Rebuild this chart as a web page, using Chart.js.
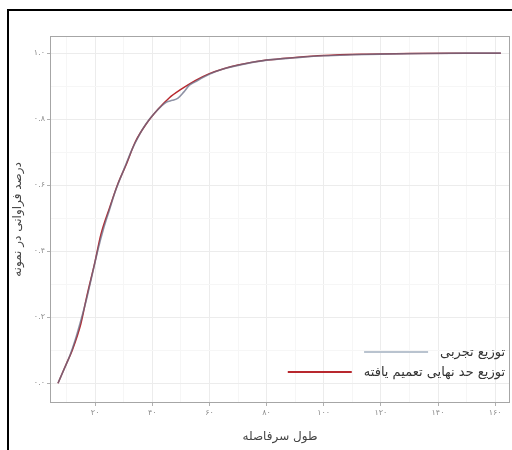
<!DOCTYPE html>
<html><head><meta charset="utf-8">
<script src="https://cdn.jsdelivr.net/npm/chart.js@4.4.1/dist/chart.umd.min.js"></script>
<style>
html,body{margin:0;padding:0;background:#fff;width:512px;height:450px;overflow:hidden}
#wrap{position:relative;width:512px;height:450px}
#frame{position:absolute;left:7px;top:9px;width:600px;height:600px;border:2px solid #000;pointer-events:none}
canvas{position:absolute;left:0;top:0}
</style></head><body>
<div id="wrap"><canvas id="c" width="512" height="450"></canvas><div id="frame"></div></div>
<script>
// ---- data ----
const fittedX = [7, 10, 12, 15, 17, 20, 22, 25, 28, 31, 34, 38, 42, 46, 50, 55, 60, 65, 70, 80, 90, 100, 115, 130, 145, 162];
const fittedY = [0.0, 0.06, 0.10, 0.18, 0.26, 0.37, 0.45, 0.53, 0.605, 0.665, 0.73, 0.787, 0.83, 0.865, 0.89, 0.917, 0.938, 0.953, 0.964, 0.979, 0.987, 0.993, 0.997, 0.999, 1.0, 1.0];
const empiricalX = [7, 9, 11, 13, 15, 17, 19, 21, 23, 25, 27, 29, 31, 33, 35, 37, 39, 41, 43, 45, 47, 49, 51, 53, 55, 58, 62, 66, 70, 75, 80, 90, 100, 110, 120, 135, 150, 162];
const empiricalY = [0.0, 0.04, 0.08, 0.13, 0.19, 0.255, 0.33, 0.405, 0.47, 0.525, 0.58, 0.625, 0.668, 0.71, 0.745, 0.775, 0.80, 0.82, 0.838, 0.852, 0.857, 0.864, 0.882, 0.903, 0.913, 0.928, 0.944, 0.955, 0.963, 0.972, 0.979, 0.986, 0.992, 0.995, 0.997, 0.999, 1.0, 1.0];
const xTicks = [20, 40, 60, 80, 100, 120, 140, 160];
const xTickLabels = ['۲۰', '۴۰', '۶۰', '۸۰', '۱۰۰', '۱۲۰', '۱۴۰', '۱۶۰'];
const xMinorTicks = [10, 30, 50, 70, 90, 110, 130, 150];
const yTicks = [0, 0.2, 0.4, 0.6, 0.8, 1.0];
const yTickLabels = ['۰.۰', '۰.۲', '۰.۴', '۰.۶', '۰.۸', '۱.۰'];
const yMinorTicks = [0.1, 0.3, 0.5, 0.7, 0.9];
const seriesNames = ['توزیع تجربی', 'توزیع حد نهایی تعمیم یافته'];
const xTitle = 'طول سرفاصله';
const yTitle = 'درصد فراوانی در نمونه';

const FONT = "'DejaVu Sans', sans-serif";
const empColor = 'rgba(105,110,135,0.75)';
const empLegendColor = '#b9c3cf';
const fitColor = '#b8282e';

const toPts = (xs, ys) => xs.map((x, i) => ({x: x, y: ys[i]}));

const frameAndLegend = {
  id: 'frameAndLegend',
  afterDatasetsDraw(chart) {
    const {ctx, chartArea: a} = chart;
    ctx.save();
    ctx.strokeStyle = '#a6a6a6';
    ctx.lineWidth = 1;
    ctx.strokeRect(a.left + 0.5, a.top + 0.5, a.right - a.left - 1, a.bottom - a.top - 1);
    // legend inside bottom-right
    ctx.font = '13px ' + FONT;
    ctx.textBaseline = 'middle';
    ctx.textAlign = 'right';
    const rows = [
      {label: seriesNames[0], color: empLegendColor, y: a.bottom - 51},
      {label: seriesNames[1], color: fitColor, y: a.bottom - 31}
    ];
    const textRight = a.right - 5;
    rows.forEach(r => {
      const w = ctx.measureText(r.label).width;
      ctx.fillStyle = '#333';
      ctx.fillText(r.label, textRight, r.y + 1);
      const end = textRight - w - 12;
      ctx.strokeStyle = r.color;
      ctx.lineWidth = 2;
      ctx.beginPath();
      ctx.moveTo(end - 64, r.y);
      ctx.lineTo(end, r.y);
      ctx.stroke();
    });
    ctx.restore();
  }
};

new Chart(document.getElementById('c'), {
  type: 'line',
  data: {
    datasets: [
      {label: seriesNames[0], data: toPts(empiricalX, empiricalY), borderColor: empColor, borderWidth: 1.6, pointRadius: 0, cubicInterpolationMode: 'monotone', fill: false},
      {label: seriesNames[1], data: toPts(fittedX, fittedY), borderColor: fitColor, borderWidth: 1.5, pointRadius: 0, cubicInterpolationMode: 'monotone', fill: false}
    ]
  },
  options: {
    responsive: false,
    animation: false,
    layout: {padding: {top: 36, right: 2, left: 0, bottom: 0}},
    plugins: {legend: {display: false}, tooltip: {enabled: false}},
    scales: {
      x: {
        type: 'linear', min: 4.2, max: 165.2,
        afterBuildTicks: s => { s.ticks = [...xMinorTicks, ...xTicks].sort((a, b) => a - b).map(v => ({value: v})); },
        afterFit: s => { s.height = 47; },
        ticks: {
          autoSkip: false, maxRotation: 0, padding: 2, color: '#8c8c8c', font: {size: 8, family: FONT},
          callback: v => { const i = xTicks.indexOf(v); return i >= 0 ? xTickLabels[i] : ''; }
        },
        grid: {
          color: c => xTicks.includes(c.tick && c.tick.value) ? '#ececec' : '#f6f6f6',
          tickColor: c => xTicks.includes(c.tick && c.tick.value) ? '#b0b0b0' : 'rgba(0,0,0,0)',
          tickLength: 3
        },
        border: {display: false},
        title: {display: true, text: xTitle, color: '#444', font: {size: 12, family: FONT}, padding: {top: 4, bottom: 6}}
      },
      y: {
        type: 'linear', min: -0.06, max: 1.052,
        afterBuildTicks: s => { s.ticks = [...yMinorTicks, ...yTicks].sort((a, b) => a - b).map(v => ({value: v})); },
        afterFit: s => { s.width = 50; },
        ticks: {
          autoSkip: false, padding: 2, color: '#8c8c8c', font: {size: 8, family: FONT},
          callback: v => { const i = yTicks.indexOf(v); return i >= 0 ? yTickLabels[i] : ''; }
        },
        grid: {
          color: c => yTicks.includes(c.tick && c.tick.value) ? '#ececec' : '#f6f6f6',
          tickColor: c => yTicks.includes(c.tick && c.tick.value) ? '#b0b0b0' : 'rgba(0,0,0,0)',
          tickLength: 3
        },
        border: {display: false},
        title: {display: true, text: yTitle, color: '#444', font: {size: 12, family: FONT}, padding: {top: 11, bottom: 2}}
      }
    }
  },
  plugins: [frameAndLegend]
});
</script>
</body></html>
